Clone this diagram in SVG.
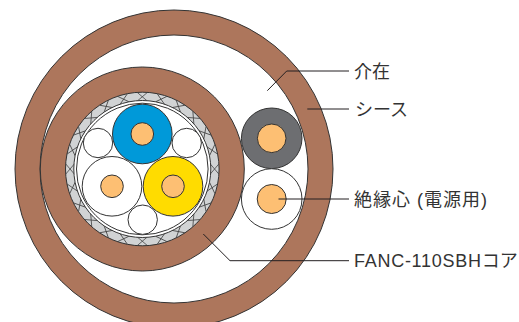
<svg xmlns="http://www.w3.org/2000/svg" xmlns:xlink="http://www.w3.org/1999/xlink" width="519" height="322" viewBox="0 0 519 322">
<style>
.o{stroke:#333;stroke-width:1;}
.brown{fill:#ad765c;}
.w{fill:#fff;}
.cu{fill:#fdbf73;stroke:#333;stroke-width:1;}
.x{fill:none;stroke:#444;stroke-width:.8;}
.l{fill:none;stroke:#231f20;stroke-width:1;}
text{font-family:"Liberation Sans","Noto Sans CJK JP",sans-serif;font-size:18px;fill:#333;}
</style>
<defs>
<path id="xx" class="x" d="M-5 -76.5L5 -68M5 -76.5L-5 -68"/>
</defs>
<rect width="519" height="322" fill="#fff"/>
<g id="sheath">
<circle class="o brown" cx="174" cy="169" r="159"/>
<circle class="o w" cx="174" cy="169" r="134"/>
</g>
<g id="core">
<circle class="o brown" cx="142.3" cy="169" r="102"/>
<circle class="o" fill="#d1d3d4" cx="142.3" cy="169" r="76.8"/>
<g transform="translate(142.3 169)">
<use xlink:href="#xx" transform="rotate(0)"/>
<use xlink:href="#xx" transform="rotate(15)"/>
<use xlink:href="#xx" transform="rotate(30)"/>
<use xlink:href="#xx" transform="rotate(45)"/>
<use xlink:href="#xx" transform="rotate(60)"/>
<use xlink:href="#xx" transform="rotate(75)"/>
<use xlink:href="#xx" transform="rotate(90)"/>
<use xlink:href="#xx" transform="rotate(105)"/>
<use xlink:href="#xx" transform="rotate(120)"/>
<use xlink:href="#xx" transform="rotate(135)"/>
<use xlink:href="#xx" transform="rotate(150)"/>
<use xlink:href="#xx" transform="rotate(165)"/>
<use xlink:href="#xx" transform="rotate(180)"/>
<use xlink:href="#xx" transform="rotate(195)"/>
<use xlink:href="#xx" transform="rotate(210)"/>
<use xlink:href="#xx" transform="rotate(225)"/>
<use xlink:href="#xx" transform="rotate(240)"/>
<use xlink:href="#xx" transform="rotate(255)"/>
<use xlink:href="#xx" transform="rotate(270)"/>
<use xlink:href="#xx" transform="rotate(285)"/>
<use xlink:href="#xx" transform="rotate(300)"/>
<use xlink:href="#xx" transform="rotate(315)"/>
<use xlink:href="#xx" transform="rotate(330)"/>
<use xlink:href="#xx" transform="rotate(345)"/>
</g>
<circle class="o w" cx="142.3" cy="169" r="68.5"/>
<circle class="o w" cx="142.3" cy="169" r="65.8"/>
<circle class="o w" cx="98" cy="143" r="14.7"/>
<circle class="o w" cx="186.7" cy="143" r="14.7"/>
<circle class="o w" cx="142.7" cy="219.7" r="14.7"/>
<circle class="o" fill="#0099d9" cx="142.3" cy="134" r="29.8"/>
<circle class="cu" cx="142.3" cy="134" r="11.3"/>
<circle class="o w" cx="112" cy="186.3" r="29.8"/>
<circle class="cu" cx="112" cy="186.3" r="11.3"/>
<circle class="o" fill="#ffdc00" cx="173" cy="186.3" r="29.8"/>
<circle class="cu" cx="173" cy="186.3" r="11.3"/>
</g>
<g id="grey-wire">
<circle class="o" fill="#6d6e71" cx="271.7" cy="138.3" r="30.3"/>
<circle class="cu" cx="271.7" cy="138.3" r="14.3"/>
</g>
<g id="power-wire">
<circle class="o w" cx="271.7" cy="199" r="30.3"/>
<circle class="cu" cx="271.7" cy="199" r="14.5"/>
</g>
<g id="connectors">
<path class="l" d="M267.3 90.7L286.7 71H349"/>
<path class="l" d="M307.3 109H349"/>
<path class="l" d="M278.5 199H349"/>
<path class="l" d="M203.3 234L230 260.7H349"/>
</g>
<g id="labels">
<text x="354" y="77.5">介在</text>
<text x="355" y="115.5">シース</text>
<text x="354" y="205.5" textLength="133">絶縁心 (電源用)</text>
<text x="354" y="266.7"><tspan letter-spacing=".72">FANC-110SBH</tspan>コア</text>
</g>
</svg>
